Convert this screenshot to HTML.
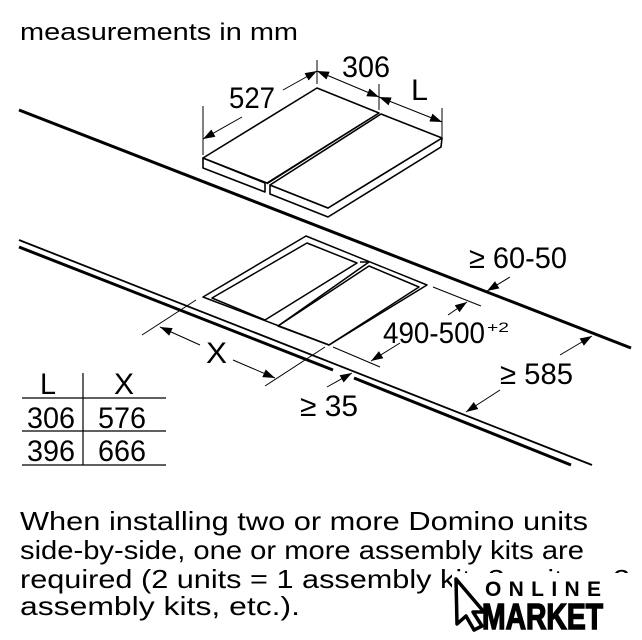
<!DOCTYPE html>
<html><head><meta charset="utf-8"><style>
html,body{margin:0;padding:0;background:#fff;}
svg{display:block;font-family:"Liberation Sans",Arial,sans-serif;}
</style></head><body>
<svg width="642" height="640" viewBox="0 0 642 640" xmlns="http://www.w3.org/2000/svg">
<defs>
<marker id="a" viewBox="0 0 10 10" refX="10" refY="5" markerWidth="12" markerHeight="12" orient="auto-start-reverse" markerUnits="userSpaceOnUse"><path d="M0,1.5 L10,5 L0,8.5 z" fill="#000"/></marker>
</defs>
<rect width="642" height="640" fill="#fff"/>
<text x="20" y="40" font-size="24" textLength="278" lengthAdjust="spacingAndGlyphs">measurements in mm</text>

<line x1="19" y1="110" x2="631" y2="348" stroke="#000" stroke-width="3"/>

<g fill="#fff" stroke="#000" stroke-width="1.6" stroke-linejoin="round">
<path d="M203,158 L203,168 L265,192 L265,183 Z"/>
<path d="M270,185 L270,194 L328,217 L441,147 L442,138 L328,208 Z"/>
<path d="M317,88 L379,113 L267,183 L203,158 Z"/>
<path d="M381,114 L442,138 L328,208 L270,185 Z"/>
</g>
<line x1="379" y1="113" x2="267" y2="184" stroke="#000" stroke-width="1"/>

<g stroke="#000" stroke-width="1" fill="none">
<line x1="203" y1="106" x2="203" y2="155"/>
<line x1="317" y1="60" x2="317" y2="84"/>
<line x1="379" y1="84" x2="379" y2="110"/>
<line x1="442" y1="108" x2="442" y2="137"/>
<line x1="242" y1="117" x2="203" y2="139" marker-end="url(#a)"/>
<line x1="283" y1="90" x2="317" y2="71" marker-end="url(#a)"/>
<line x1="317" y1="71" x2="379" y2="97" marker-start="url(#a)" marker-end="url(#a)"/>
<line x1="379" y1="97" x2="442" y2="122" marker-start="url(#a)" marker-end="url(#a)"/>
</g>
<g font-size="30" lengthAdjust="spacingAndGlyphs">
<text x="229" y="108" textLength="46" lengthAdjust="spacingAndGlyphs">527</text>
<text x="342" y="77" textLength="48" lengthAdjust="spacingAndGlyphs">306</text>
<text x="411" y="100" textLength="17" lengthAdjust="spacingAndGlyphs">L</text>
</g>

<line x1="19" y1="240" x2="592" y2="465" stroke="#000" stroke-width="1.8"/>
<path d="M19,247 L333,370 M354,378 L571,465" stroke="#000" stroke-width="3" fill="none"/>

<g fill="none" stroke="#000" stroke-width="1.5" stroke-linejoin="round">
<path d="M306,236 L427,285 L329,345 L203,297 Z"/>
<path d="M307,243 L357,263 L265,320 L212,298 Z"/>
<path d="M369,266 L419,287 L329,345 L278,326 Z"/>
<line x1="360" y1="262" x2="369" y2="262"/>
<line x1="369" y1="262" x2="278" y2="326"/>
</g>

<g stroke="#000" stroke-width="1" fill="none">
<line x1="433" y1="287" x2="481" y2="306"/>
<line x1="333" y1="347" x2="380" y2="367"/>
<line x1="448" y1="315" x2="467" y2="302" marker-end="url(#a)"/>
<line x1="400" y1="343" x2="371" y2="361" marker-end="url(#a)"/>
<line x1="510" y1="277" x2="487" y2="291" marker-end="url(#a)"/>
<line x1="560" y1="355" x2="592" y2="336" marker-end="url(#a)"/>
<line x1="500" y1="390" x2="466" y2="412" marker-end="url(#a)"/>
<line x1="327" y1="387" x2="352" y2="373" marker-end="url(#a)"/>
<line x1="142" y1="335" x2="196" y2="300"/>
<line x1="265" y1="386" x2="325" y2="347"/>
<line x1="200" y1="345" x2="160" y2="327" marker-end="url(#a)"/>
<line x1="233" y1="360" x2="275" y2="378" marker-end="url(#a)"/>
</g>
<g font-size="30">
<text x="383" y="343" textLength="102" lengthAdjust="spacingAndGlyphs">490-500</text>
<text x="469" y="268" textLength="98" lengthAdjust="spacingAndGlyphs">≥ 60-50</text>
<text x="500" y="384" textLength="73" lengthAdjust="spacingAndGlyphs">≥ 585</text>
<text x="300" y="416" textLength="58" lengthAdjust="spacingAndGlyphs">≥ 35</text>
<text x="206" y="363" textLength="21" lengthAdjust="spacingAndGlyphs">X</text>
</g>
<text x="487" y="332" font-size="14" textLength="22" lengthAdjust="spacingAndGlyphs">+2</text>

<g stroke="#000" stroke-width="1.2">
<line x1="83" y1="373" x2="83" y2="465"/>
<line x1="22" y1="398" x2="166" y2="398"/>
<line x1="22" y1="431" x2="166" y2="431"/>
<line x1="22" y1="465" x2="166" y2="465"/>
</g>
<g font-size="30">
<text x="40" y="394" textLength="16" lengthAdjust="spacingAndGlyphs">L</text>
<text x="114" y="394" textLength="20" lengthAdjust="spacingAndGlyphs">X</text>
<text x="27" y="428" textLength="48" lengthAdjust="spacingAndGlyphs">306</text>
<text x="98" y="428" textLength="48" lengthAdjust="spacingAndGlyphs">576</text>
<text x="27" y="461" textLength="48" lengthAdjust="spacingAndGlyphs">396</text>
<text x="98" y="461" textLength="48" lengthAdjust="spacingAndGlyphs">666</text>
</g>

<g font-size="26">
<text x="20" y="530" textLength="568" lengthAdjust="spacingAndGlyphs">When installing two or more Domino units</text>
<text x="20" y="559" textLength="564" lengthAdjust="spacingAndGlyphs">side-by-side, one or more assembly kits are</text>
<text x="20" y="588" textLength="610" lengthAdjust="spacingAndGlyphs">required (2 units = 1 assembly kit, 3 units = 2</text>
<text x="20" y="615" textLength="280" lengthAdjust="spacingAndGlyphs">assembly kits, etc.).</text>
</g>

<rect x="452" y="573" width="190" height="67" fill="#fff"/>
<path d="M456,579 L484,612 L473,612 L482,626 L474,630 L466,616 L457,624 Z" fill="#fff" stroke="#000" stroke-width="3.5" stroke-linejoin="round"/>
<text x="485" y="596" font-size="21" font-weight="bold" textLength="116" lengthAdjust="spacing">ONLINE</text>
<text x="482" y="629" font-size="36" font-weight="bold" textLength="121" lengthAdjust="spacingAndGlyphs" stroke="#000" stroke-width="1.5">MARKET</text>
</svg>
</body></html>
